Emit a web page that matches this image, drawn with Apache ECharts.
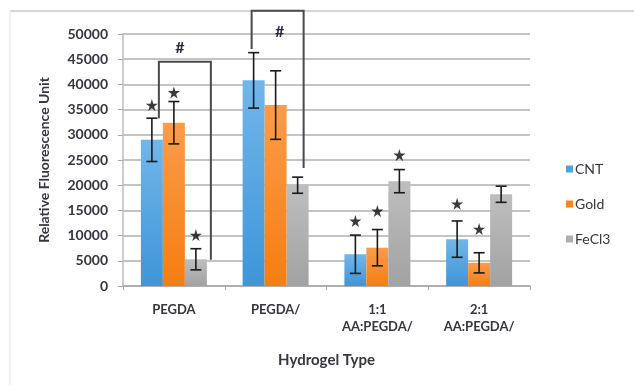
<!DOCTYPE html>
<html>
<head>
<meta charset="utf-8">
<script src="https://cdn.jsdelivr.net/npm/echarts@6/dist/echarts.min.js"></script>
<style>
  html, body { margin: 0; padding: 0; background: #fff; }
  #chart { width: 634px; height: 385px; }
</style>
</head>
<body>
<div id="chart"></div>
<script>
// data
var categories = ['PEGDA', 'PEGDA/', '1:1\nAA:PEGDA/', '2:1\nAA:PEGDA/']
var seriesNames = ['CNT', 'Gold', 'FeCl3']
var cntValues = [29000, 40800, 6300, 9300]
var goldValues = [32400, 35900, 7600, 4600]
var fecl3Values = [5300, 20000, 20800, 18200]
var cntErrors = [4300, 5500, 3800, 3600]
var goldErrors = [4200, 6800, 3600, 2000]
var fecl3Errors = [2100, 1600, 2300, 1600]
// star markers (value per category), null = no star
var cntStars = [35900, null, 12900, 16300]
var goldStars = [38400, null, 14900, 11300]
var fecl3Stars = [10100, null, 26000, null]
// significance brackets: category, left foot, top, right foot, label value
var bracketCats = [0, 1]
var bracketLeftFoot = [33300, 47000]
var bracketTop = [44500, 54600]
var bracketRightFoot = [5200, 23400]
var bracketLabelValue = [47300, 50400]
var yTicks = [0, 50000, 5000]

var chart = echarts.init(document.getElementById('chart'))

var BAR_W = 22
var offsets = [-BAR_W, 0, BAR_W]
var colors = [
  new echarts.graphic.LinearGradient(0, 0, 0, 1, [{ offset: 0, color: '#72B6E9' }, { offset: 1, color: '#3E95D8' }]),
  new echarts.graphic.LinearGradient(0, 0, 0, 1, [{ offset: 0, color: '#FB9C4C' }, { offset: 1, color: '#F57E10' }]),
  new echarts.graphic.LinearGradient(0, 0, 0, 1, [{ offset: 0, color: '#BEBEBE' }, { offset: 1, color: '#A2A2A2' }])
]
var legendColors = ['#4FA3E0', '#F7861C', '#B0B0B0']
var values = [cntValues, goldValues, fecl3Values]
var errors = [cntErrors, goldErrors, fecl3Errors]
var stars = [cntStars, goldStars, fecl3Stars]
var starPath = 'path://M50,0 L61,35 L98,35 L68,57 L79,91 L50,70 L21,91 L32,57 L2,35 L39,35 Z'
var font = 'Lato, "Open Sans", sans-serif'
var textColor = '#363640'

var series = []
values.forEach(function (vals, s) {
  series.push({
    name: seriesNames[s],
    type: 'bar',
    data: vals,
    barWidth: BAR_W,
    barGap: '0%',
    barCategoryGap: '35%',
    itemStyle: { color: colors[s] },
    z: 2
  })
})
values.forEach(function (vals, s) {
  series.push({
    type: 'custom',
    z: 5,
    silent: true,
    data: vals.map(function (v, i) { return [i, v - errors[s][i], v + errors[s][i]] }),
    renderItem: function (params, api) {
      var lo = api.coord([api.value(0), api.value(1)])
      var hi = api.coord([api.value(0), api.value(2)])
      var x = lo[0] + offsets[s]
      var half = 5.5
      var st = { stroke: '#1a1a1a', lineWidth: 1.6 }
      return {
        type: 'group',
        children: [
          { type: 'line', shape: { x1: x, y1: lo[1], x2: x, y2: hi[1] }, style: st },
          { type: 'line', shape: { x1: x - half, y1: lo[1], x2: x + half, y2: lo[1] }, style: st },
          { type: 'line', shape: { x1: x - half, y1: hi[1], x2: x + half, y2: hi[1] }, style: st }
        ]
      }
    }
  })
  series.push({
    type: 'scatter',
    z: 6,
    silent: true,
    symbol: starPath,
    symbolSize: 12,
    symbolOffset: [offsets[s], 0],
    itemStyle: { color: '#0a0a0a' },
    data: stars[s].map(function (v, i) { return v == null ? null : [i, v] }).filter(function (d) { return d })
  })
})

var bracketOffsets = [[-15, 37, 6], [-24, 28, 4]]
series.push({
  type: 'custom',
  z: 4,
  silent: true,
  clip: false,
  data: bracketCats.map(function (c, i) {
    return [c, bracketLeftFoot[i], bracketTop[i], bracketRightFoot[i], bracketLabelValue[i]]
  }),
  renderItem: function (params, api) {
    var i = params.dataIndex
    var c = api.value(0)
    var pL = api.coord([c, api.value(1)])
    var pT = api.coord([c, api.value(2)])
    var pR = api.coord([c, api.value(3)])
    var pH = api.coord([c, api.value(4)])
    var o = bracketOffsets[i]
    var xl = pL[0] + o[0]
    var xr = pL[0] + o[1]
    return {
      type: 'group',
      children: [
        {
          type: 'polyline',
          shape: { points: [[xl, pL[1]], [xl, pT[1]], [xr, pT[1]], [xr, pR[1]]] },
          style: { stroke: '#4a4a4a', lineWidth: 2, fill: null }
        },
        {
          type: 'text',
          x: pL[0] + o[2],
          y: pH[1],
          style: { text: '#', fill: '#2a2a3a', font: 'bold 16px ' + font, align: 'center', verticalAlign: 'middle' }
        }
      ]
    }
  }
})

var option = {
  backgroundColor: '#fff',
  animation: false,
  textStyle: { fontFamily: font },
  graphic: [
    { type: 'line', shape: { x1: 10, y1: 11, x2: 634, y2: 11 }, style: { stroke: '#c8c8c8', lineWidth: 1.5 } },
    { type: 'line', shape: { x1: 10, y1: 11, x2: 10, y2: 385 }, style: { stroke: '#ececec', lineWidth: 1.5 } }
  ],
  grid: { left: 123, right: 104, top: 34, bottom: 99 },
  legend: {
    orient: 'vertical',
    left: 561,
    top: 157,
    itemWidth: 7,
    itemHeight: 7,
    itemGap: 21,
    icon: 'rect',
    data: seriesNames.map(function (n, s) { return { name: n, itemStyle: { color: legendColors[s] } } }),
    textStyle: { fontSize: 14, color: textColor, fontFamily: font, padding: [0, 0, 0, -3] }
  },
  xAxis: {
    type: 'category',
    data: categories,
    name: 'Hydrogel Type',
    nameLocation: 'middle',
    nameGap: 67,
    nameTextStyle: { fontSize: 15, fontWeight: 'bold', color: textColor },
    axisLine: { lineStyle: { color: '#a8a8a8', width: 1.5 } },
    axisTick: { show: true, alignWithLabel: false, length: 4, lineStyle: { color: '#a8a8a8' } },
    axisLabel: { fontSize: 13, fontWeight: 'bold', color: textColor, margin: 15, lineHeight: 17 }
  },
  yAxis: {
    type: 'value',
    min: yTicks[0],
    max: yTicks[1],
    interval: yTicks[2],
    name: 'Relative Fluorescence Unit',
    nameLocation: 'middle',
    nameGap: 72,
    nameTextStyle: { fontSize: 14, fontWeight: 'bold', color: textColor },
    axisLine: { show: true, lineStyle: { color: '#bdbdbd', width: 1.5 } },
    axisTick: { show: true, length: 5, lineStyle: { color: '#a8a8a8' } },
    axisLabel: { fontSize: 14, fontWeight: 'bold', color: textColor, margin: 15, formatter: function (v) { return String(v) } },
    splitLine: { lineStyle: { color: '#c4c4c4', width: 1.8 } }
  },
  series: series
}

chart.setOption(option)
</script>
</body>
</html>
